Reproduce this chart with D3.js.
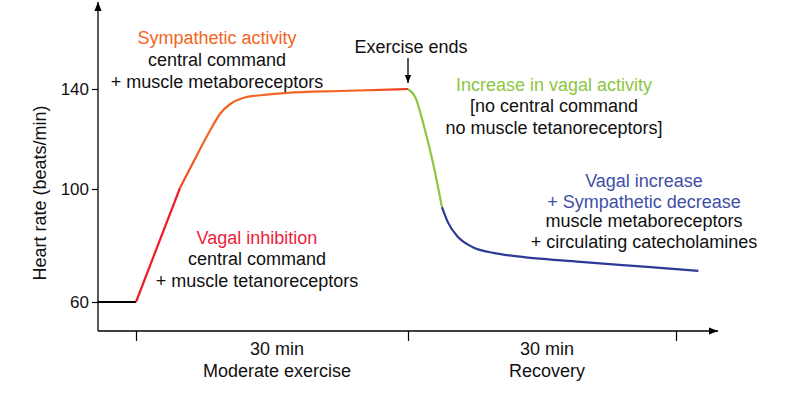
<!DOCTYPE html>
<html>
<head>
<meta charset="utf-8">
<script src="https://cdn.jsdelivr.net/npm/d3@7"></script>
<style>
  html, body { margin: 0; padding: 0; background: #fff; }
  svg { display: block; font-family: "Liberation Sans", Arial, Helvetica, sans-serif; }
</style>
</head>
<body>
<svg id="chart" width="790" height="395"></svg>
<script>
// ---- Data (time in minutes, heart rate in beats/min) ----
const yTicks = [60, 100, 140];
const xTicks = [0, 30, 60];
const periodLabels = ["30 min", "30 min"];
const periodNames = ["Moderate exercise", "Recovery"];
const periodMid = [15, 45];

const restSeries = [[-4.2, 60], [0, 60]];
const vagalInhibitionSeries = [[0, 60], [4.85, 100.4]];
const sympatheticSeries = [[4.85, 100.4], [6.5, 112.0], [8.2, 123.6], [9.3, 130.2], [10.4, 134.0], [11.8, 136.4], [14.0, 137.6], [16.6, 138.4], [22.5, 139.2], [30, 140]];
const vagalIncreaseSeries = [[30, 140], [30.8, 136.8], [31.9, 123.6], [32.8, 110.4], [33.8, 93.6]];
const recoverySeries = [[33.8, 93.6], [34.5, 88.0], [35.6, 83.0], [37.2, 79.5], [39.7, 77.3], [41.8, 76.3], [49.3, 74.2], [56.8, 72.4], [62.5, 71.0]];

const colors = { red: "#ED1C24", orange: "#F26522", green: "#8DC63F", blue: "#2E3A94", blueText: "#3F4FA6", redText: "#EE1D3C" };

const svg = d3.select("#chart");

// scales (schematic axes: piecewise linear)
const x = d3.scaleLinear().domain([0, 30, 60]).range([136, 408, 676]);
const y = d3.scaleLinear().domain([60, 100, 140]).range([302, 189, 89]);

const axisX0 = 98, axisY0 = 331, axisXEnd = 718, axisYTop = 2;

// defs
const defs = svg.append("defs");
defs.append("marker").attr("id", "ah").attr("viewBox", "0 0 10 10").attr("refX", 10).attr("refY", 5)
  .attr("markerWidth", 12).attr("markerHeight", 9).attr("markerUnits", "userSpaceOnUse").attr("orient", "auto")
  .append("path").attr("d", "M0,1 L10,5 L0,9 Z").attr("fill", "#000");
defs.append("marker").attr("id", "ahs").attr("viewBox", "0 0 10 10").attr("refX", 10).attr("refY", 5)
  .attr("markerWidth", 9).attr("markerHeight", 8).attr("markerUnits", "userSpaceOnUse").attr("orient", "auto")
  .append("path").attr("d", "M0,1 L10,5 L0,9 Z").attr("fill", "#000");
const grad = defs.append("linearGradient").attr("id", "og").attr("gradientUnits", "userSpaceOnUse")
  .attr("x1", x(4.85)).attr("x2", x(30)).attr("y1", 0).attr("y2", 0);
grad.append("stop").attr("offset", 0).attr("stop-color", "#F04E23");
grad.append("stop").attr("offset", 0.12).attr("stop-color", colors.orange);
grad.append("stop").attr("offset", 0.8).attr("stop-color", colors.orange);
grad.append("stop").attr("offset", 1).attr("stop-color", "#EE3524");

// axes
svg.append("line").attr("x1", axisX0).attr("y1", axisY0).attr("x2", axisX0).attr("y2", axisYTop)
  .attr("stroke", "#000").attr("stroke-width", 1.3).attr("marker-end", "url(#ah)");
svg.append("line").attr("x1", axisX0).attr("y1", axisY0).attr("x2", axisXEnd).attr("y2", axisY0)
  .attr("stroke", "#000").attr("stroke-width", 1.3).attr("marker-end", "url(#ah)");

const yAxis = svg.append("g").attr("transform", `translate(${axisX0},0)`)
  .call(d3.axisLeft(y).tickValues(yTicks).tickSize(6).tickPadding(3).tickFormat(d3.format("d")));
yAxis.select(".domain").remove();
yAxis.selectAll("line").attr("stroke", "#000").attr("stroke-width", 1.2);
yAxis.selectAll("text").attr("font-size", 17).attr("fill", "#111").attr("font-family", "Liberation Sans, Arial, sans-serif");

const xAxis = svg.append("g").attr("transform", `translate(0,${axisY0})`)
  .call(d3.axisBottom(x).tickValues(xTicks).tickSize(10).tickFormat(""));
xAxis.select(".domain").remove();
xAxis.selectAll("line").attr("stroke", "#000").attr("stroke-width", 1.2);

// axis title
svg.append("text").attr("transform", `translate(46,193) rotate(-90)`).attr("text-anchor", "middle")
  .attr("font-size", 18).attr("fill", "#111").text("Heart rate (beats/min)");

// period labels
periodMid.forEach((m, i) => {
  svg.append("text").attr("x", x(m) + 5).attr("y", 355).attr("text-anchor", "middle")
    .attr("font-size", 18).attr("fill", "#111").text(periodLabels[i]);
  svg.append("text").attr("x", x(m) + 5).attr("y", 377).attr("text-anchor", "middle")
    .attr("font-size", 18).attr("fill", "#111").text(periodNames[i]);
});

// curves
const line = d3.line().x(d => x(d[0])).y(d => y(d[1]));
const smooth = d3.line().x(d => x(d[0])).y(d => y(d[1])).curve(d3.curveMonotoneX);
svg.append("path").datum(restSeries).attr("d", line).attr("fill", "none").attr("stroke", "#000").attr("stroke-width", 2);
svg.append("path").datum(vagalInhibitionSeries).attr("d", line).attr("fill", "none").attr("stroke", colors.red).attr("stroke-width", 2.2);
svg.append("path").datum(sympatheticSeries).attr("d", smooth).attr("fill", "none").attr("stroke", "url(#og)").attr("stroke-width", 2.2);
svg.append("path").datum(vagalIncreaseSeries).attr("d", smooth).attr("fill", "none").attr("stroke", colors.green).attr("stroke-width", 2.2);
svg.append("path").datum(recoverySeries).attr("d", smooth).attr("fill", "none").attr("stroke", colors.blue).attr("stroke-width", 2.2);

// annotations
function block(cx, ys, lines) {
  lines.forEach((l, i) => {
    svg.append("text").attr("x", cx).attr("y", ys[i]).attr("dy", "0.36em").attr("text-anchor", "middle")
      .attr("font-size", 18).attr("fill", l[1]).text(l[0]);
  });
}
block(217, [38, 60, 82], [["Sympathetic activity", colors.orange], ["central command", "#111"], ["+ muscle metaboreceptors", "#111"]]);
block(411, [47], [["Exercise ends", "#111"]]);
svg.append("line").attr("x1", x(30)).attr("x2", x(30)).attr("y1", 58).attr("y2", 83)
  .attr("stroke", "#000").attr("stroke-width", 1.3).attr("marker-end", "url(#ahs)");
block(554, [85, 106, 128], [["Increase in vagal activity", colors.green], ["[no central command", "#111"], ["no muscle tetanoreceptors]", "#111"]]);
block(644, [181, 202, 221, 242], [["Vagal increase", colors.blueText], ["+ Sympathetic decrease", colors.blueText], ["muscle metaboreceptors", "#111"], ["+ circulating catecholamines", "#111"]]);
block(257, [238, 259, 281], [["Vagal inhibition", colors.redText], ["central command", "#111"], ["+ muscle tetanoreceptors", "#111"]]);
</script>
</body>
</html>
